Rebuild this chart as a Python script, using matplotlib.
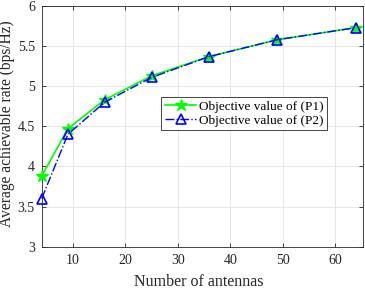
import numpy as np
import matplotlib.pyplot as plt

antennas = [4, 9, 16, 25, 36, 49, 64]
rate_p1 = [3.88, 4.47, 4.83, 5.13, 5.37, 5.58, 5.73]
rate_p2 = [3.60, 4.40, 4.80, 5.11, 5.37, 5.58, 5.73]

plt.rcParams['font.family'] = ['Liberation Serif', 'DejaVu Serif']

fig = plt.figure(figsize=(3.65, 2.89), dpi=100)
ax = fig.add_axes([41.7/365, 1-246.7/289, (362.7-41.7)/365, (246.7-6)/289])

ax.plot(antennas, rate_p1, '-', color=(0, 1, 0), marker='*', markersize=9,
        linewidth=1.2, label='Objective value of (P1)', clip_on=False, zorder=3)
ax.plot(antennas, rate_p2, '-.', color=(0, 0, 1), marker='^', markersize=7,
        markerfacecolor='none', markeredgewidth=1.2, linewidth=1.0,
        label='Objective value of (P2)', clip_on=False, zorder=4)

ax.set_xlim(4, 65.3)
ax.set_ylim(3, 6)
ax.set_xticks([10, 20, 30, 40, 50, 60])
ax.set_yticks([3, 3.5, 4, 4.5, 5, 5.5, 6])
ax.set_yticklabels(['3', '3.5', '4', '4.5', '5', '5.5', '6'])
ax.grid(True, color='#e3e3e3', linewidth=0.6)
ax.tick_params(direction='in', labelsize=10, colors='#262626', length=3,
               top=True, right=True, width=0.6, pad=5)
for s in ax.spines.values():
    s.set_color('#262626')
    s.set_linewidth(0.6)

ax.set_xlabel('Number of antennas', fontsize=11.5, color='#262626')
ax.xaxis.set_label_coords(0.49, -0.115)
ax.set_ylabel('Average achievable rate (bps/Hz)', fontsize=11.2, color='#262626')
ax.yaxis.set_label_coords(-0.082, 0.51)

leg = ax.legend(loc='upper left', bbox_to_anchor=(0.373, 0.62), fontsize=9.5,
                fancybox=False, framealpha=1, edgecolor='#262626',
                borderpad=0.25, handlelength=2.4, handletextpad=0.2,
                labelspacing=0.1, borderaxespad=0)
leg.get_frame().set_linewidth(0.6)

fig.savefig('out.png', dpi=100)
